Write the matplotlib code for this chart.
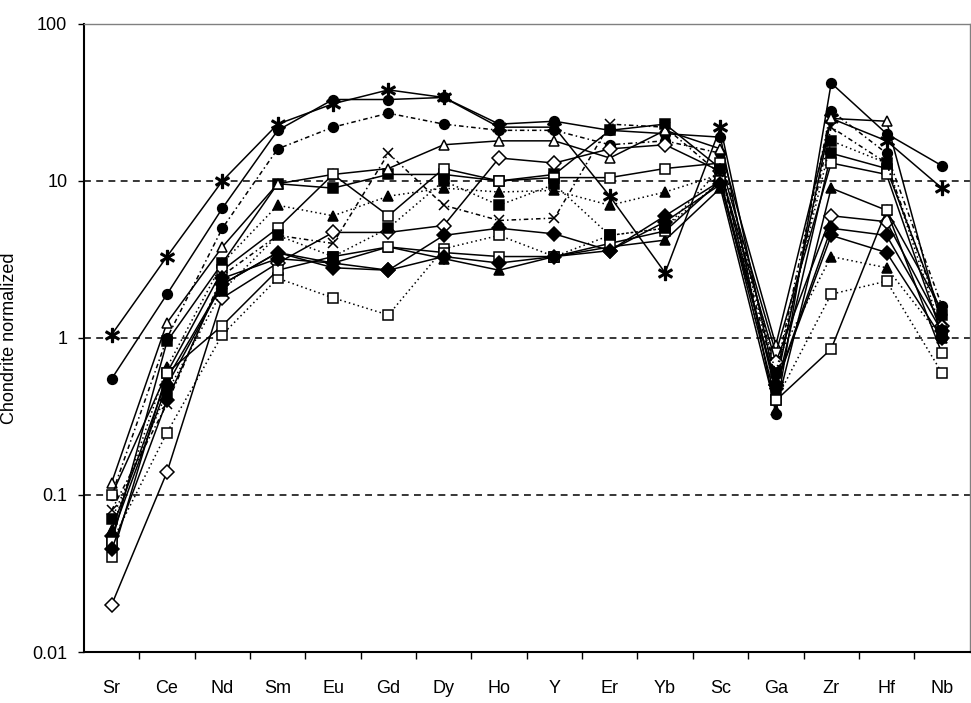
# Chondrite-normalized spider diagram (log scale)
import matplotlib
matplotlib.use('Agg')
import matplotlib.pyplot as plt
from matplotlib.ticker import FixedLocator, NullLocator

# element order on the x axis
elements = ['Sr', 'Ce', 'Nd', 'Sm', 'Eu', 'Gd', 'Dy', 'Ho', 'Y', 'Er', 'Yb', 'Sc', 'Ga', 'Zr', 'Hf', 'Nb']

# one list per sample
s01 = [0.55, 1.9, 6.7, 21, 33, 33, 34, 23, 24, 21, 20, 19, 0.33, 42, 20, 12.5]
s02 = [1.05, 3.3, 10, 23, 31, 38, 34, 22, 22, 8, 2.6, 22, 0.5, 25, 18, 9]
s03 = [0.1, 1.0, 5.0, 16, 22, 27, 23, 21, 21, 17, 18, 15, 0.6, 28, 15, 1.6]
s04 = [0.05, 0.95, 3.0, 9.6, 9, 11, 11, 10, 11, 21, 23, 12, 0.45, 15, 12, 1.4]
s05 = [0.12, 1.25, 3.8, 9.6, 11, 12, 17, 18, 18, 14, 21, 16, 0.9, 25, 24, 1.2]
s06 = [0.06, 0.65, 3.0, 7, 6, 8, 9, 8.5, 8.7, 7, 8.5, 11, 0.7, 3.3, 2.8, 1.0]
s07 = [0.04, 0.6, 2.7, 5, 11, 6, 12, 10, 10.5, 10.5, 12, 13, 0.8, 13, 11, 1.05]
s08 = [0.02, 0.14, 1.8, 3, 4.7, 4.7, 5.2, 14, 13, 16, 17, 11.5, 0.7, 6, 5.5, 1.2]
s09 = [0.08, 0.38, 2.5, 4.5, 4, 15, 7, 5.6, 5.8, 23, 22, 11, 0.55, 22, 13, 1.3]
s10 = [0.055, 0.5, 2.2, 3.5, 2.8, 2.7, 4.5, 5, 4.6, 3.6, 6, 10, 0.5, 5, 4.5, 1.1]
s11 = [0.05, 0.25, 1.05, 2.4, 1.8, 1.4, 3.7, 4.5, 3.3, 4.5, 5, 10, 0.4, 1.9, 2.3, 0.6]
s12 = [0.06, 0.55, 2.2, 3.5, 3.0, 3.8, 3.2, 2.7, 3.3, 3.8, 4.2, 9, 0.35, 9, 6.5, 1.5]
s13 = [0.1, 0.6, 1.2, 2.7, 3.3, 3.8, 3.5, 3.3, 3.3, 4, 4.8, 10, 0.4, 0.85, 6.5, 0.8]
s14 = [0.07, 0.45, 2.0, 4.5, 3.3, 5, 10, 7, 9.5, 4.5, 5, 12, 0.6, 18, 13, 1.1]
s15 = [0.045, 0.4, 2.4, 3.2, 3.0, 2.7, 3.3, 3.0, 3.3, 3.6, 5.5, 9.5, 0.5, 4.5, 3.5, 1.0]

samples = [s01, s02, s03, s04, s05, s06, s07, s08, s09, s10, s11, s12, s13, s14, s15]

# marker, filled, line style
styles = [
    ('o', True, '-'), ('$*$', True, '-'), ('o', True, (0, (3, 2, 1, 2))),
    ('s', True, '-'), ('^', False, '-'), ('^', True, (0, (1, 2))),
    ('s', False, '-'), ('D', False, '-'), ('x', True, (0, (3, 2, 1, 2))),
    ('D', True, '-'), ('s', False, (0, (1, 2))), ('^', True, '-'),
    ('s', False, '-'), ('s', True, (0, (1, 2))), ('D', True, '-'),
]

plt.rcParams['font.family'] = ['Liberation Sans', 'DejaVu Sans']

fig = plt.figure(figsize=(9.71, 7.03), dpi=100)
ax = fig.add_axes([0.0865, 0.0725, 0.912, 0.8935])

x = list(range(len(elements)))
for vals, (mk, filled, ls) in zip(samples, styles):
    ax.plot(x, vals, color='black', linewidth=1.1, linestyle=ls,
            marker=mk, markersize=7 if mk != '$*$' else 10,
            markerfacecolor='black' if filled else 'white',
            markeredgecolor='black', markeredgewidth=1.1, zorder=3)

ax.set_yscale('log')
ax.set_ylim(0.01, 100)
ax.set_xlim(-0.5, len(elements) - 0.5)

# dashed gridlines
for g in [0.1, 1, 10]:
    ax.axhline(g, color='black', linestyle=(0, (4.5, 3.5)), linewidth=1.1, zorder=1)

ax.yaxis.set_major_locator(FixedLocator([0.01, 0.1, 1, 10, 100]))
ax.yaxis.set_minor_locator(NullLocator())
ax.set_yticklabels(['0.01', '0.1', '1', '10', '100'], fontsize=13)
ax.tick_params(axis='y', which='major', direction='out', length=4, width=1, pad=8)

ax.set_xticks(x)
ax.set_xticklabels(elements, fontsize=13)
ax.set_xticks([i + 0.5 for i in x[:-1]], minor=True)
ax.tick_params(axis='x', which='major', length=0, pad=20)
ax.tick_params(axis='x', which='minor', direction='out', length=5, width=1)

ax.set_ylabel('Chondrite normalized', fontsize=13)
ax.yaxis.set_label_coords(-0.074, 0.5)

for side in ['left', 'bottom']:
    ax.spines[side].set_linewidth(1.5)
    ax.spines[side].set_color('black')
for side in ['top', 'right']:
    ax.spines[side].set_linewidth(1.0)
    ax.spines[side].set_color('#808080')

fig.savefig('out.png', dpi=100)
